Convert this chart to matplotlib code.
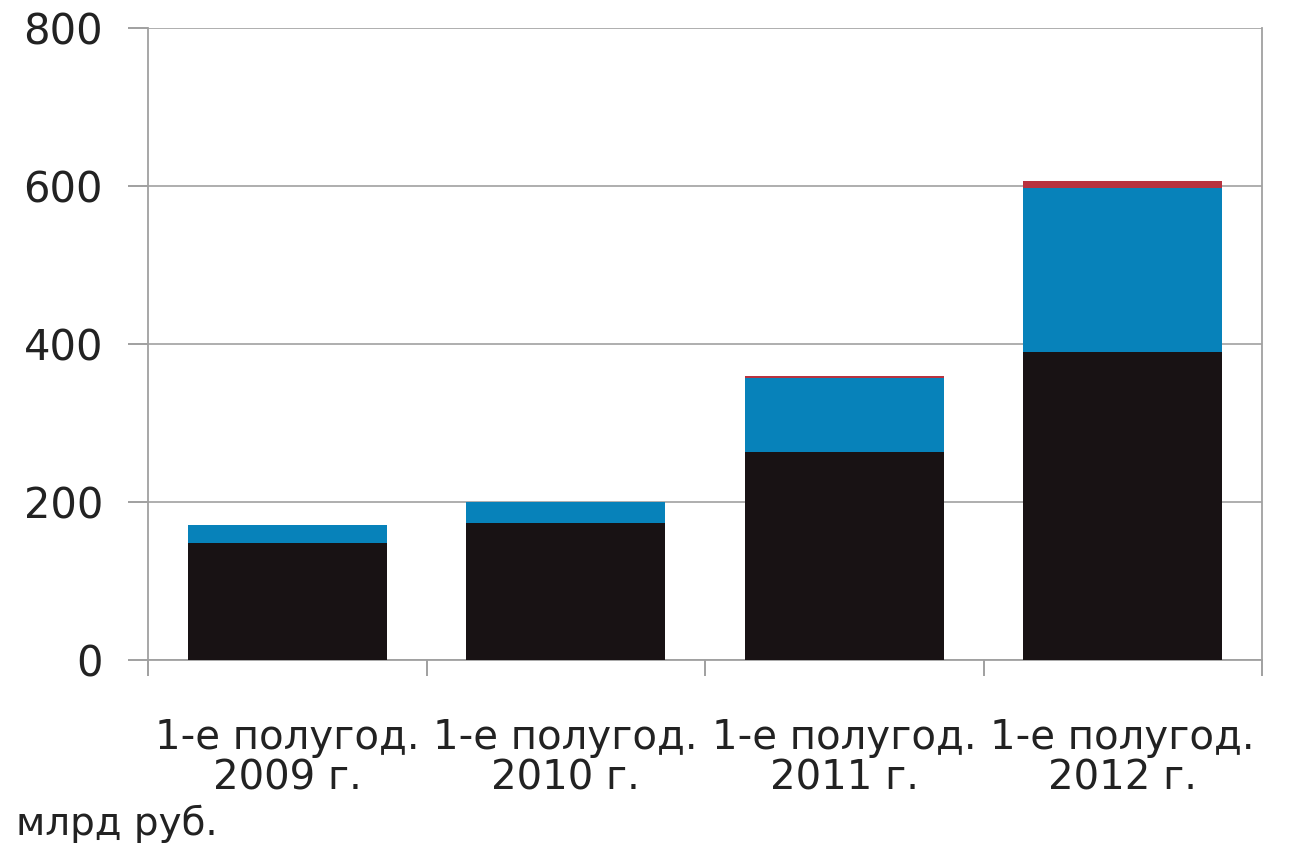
import numpy as np
import matplotlib.pyplot as plt

# categories and stacked values, bln rub
categories = ['1-е полугод.\n2009 г.', '1-е полугод.\n2010 г.',
              '1-е полугод.\n2011 г.', '1-е полугод.\n2012 г.']
black_vals = [148, 173, 263, 390]
blue_vals = [23, 27, 94, 207]
red_vals = [0, 0, 2, 10]

plt.rcParams['font.family'] = ['DejaVu Sans']

fig = plt.figure(figsize=(12.99, 8.51), dpi=100)
ax = fig.add_axes([0.114, 0.2244, 0.8575, 0.7426])

x = np.arange(len(categories))
w = 0.715
black = np.array(black_vals)
blue = np.array(blue_vals)
red = np.array(red_vals)

ax.bar(x, black, w, color='#181214', zorder=3)
ax.bar(x, blue, w, bottom=black, color='#0782ba', zorder=3)
ax.bar(x, red, w, bottom=black + blue, color='#b8323f', zorder=3)

ax.set_xlim(-0.5, 3.5)
ax.set_ylim(0, 800)
ax.set_yticks([0, 200, 400, 600, 800])
ax.yaxis.grid(True, color='#a8a8a8', lw=1.3, zorder=0)
ax.set_axisbelow(True)

ax.set_xticks(x)
ax.set_xticklabels(categories, fontsize=29, color='#222222', linespacing=1.0)
ax.set_xticks(np.arange(-0.5, 4.0, 1.0), minor=True)
ax.tick_params(axis='x', which='major', length=0, pad=42)
ax.tick_params(axis='x', which='minor', length=11.5, width=1.3, color='#999999')
ax.tick_params(axis='y', length=14.5, width=1.3, color='#999999',
               labelsize=30, labelcolor='#222222', pad=18)

for s in ['left', 'right', 'bottom', 'top']:
    ax.spines[s].set_color('#a0a0a0')
    ax.spines[s].set_linewidth(1.3)
ax.spines['top'].set_visible(False)

fig.text(0.012, 0.019, 'млрд руб.', fontsize=28, color='#222222', va='baseline')

fig.savefig('out.png', dpi=100)
